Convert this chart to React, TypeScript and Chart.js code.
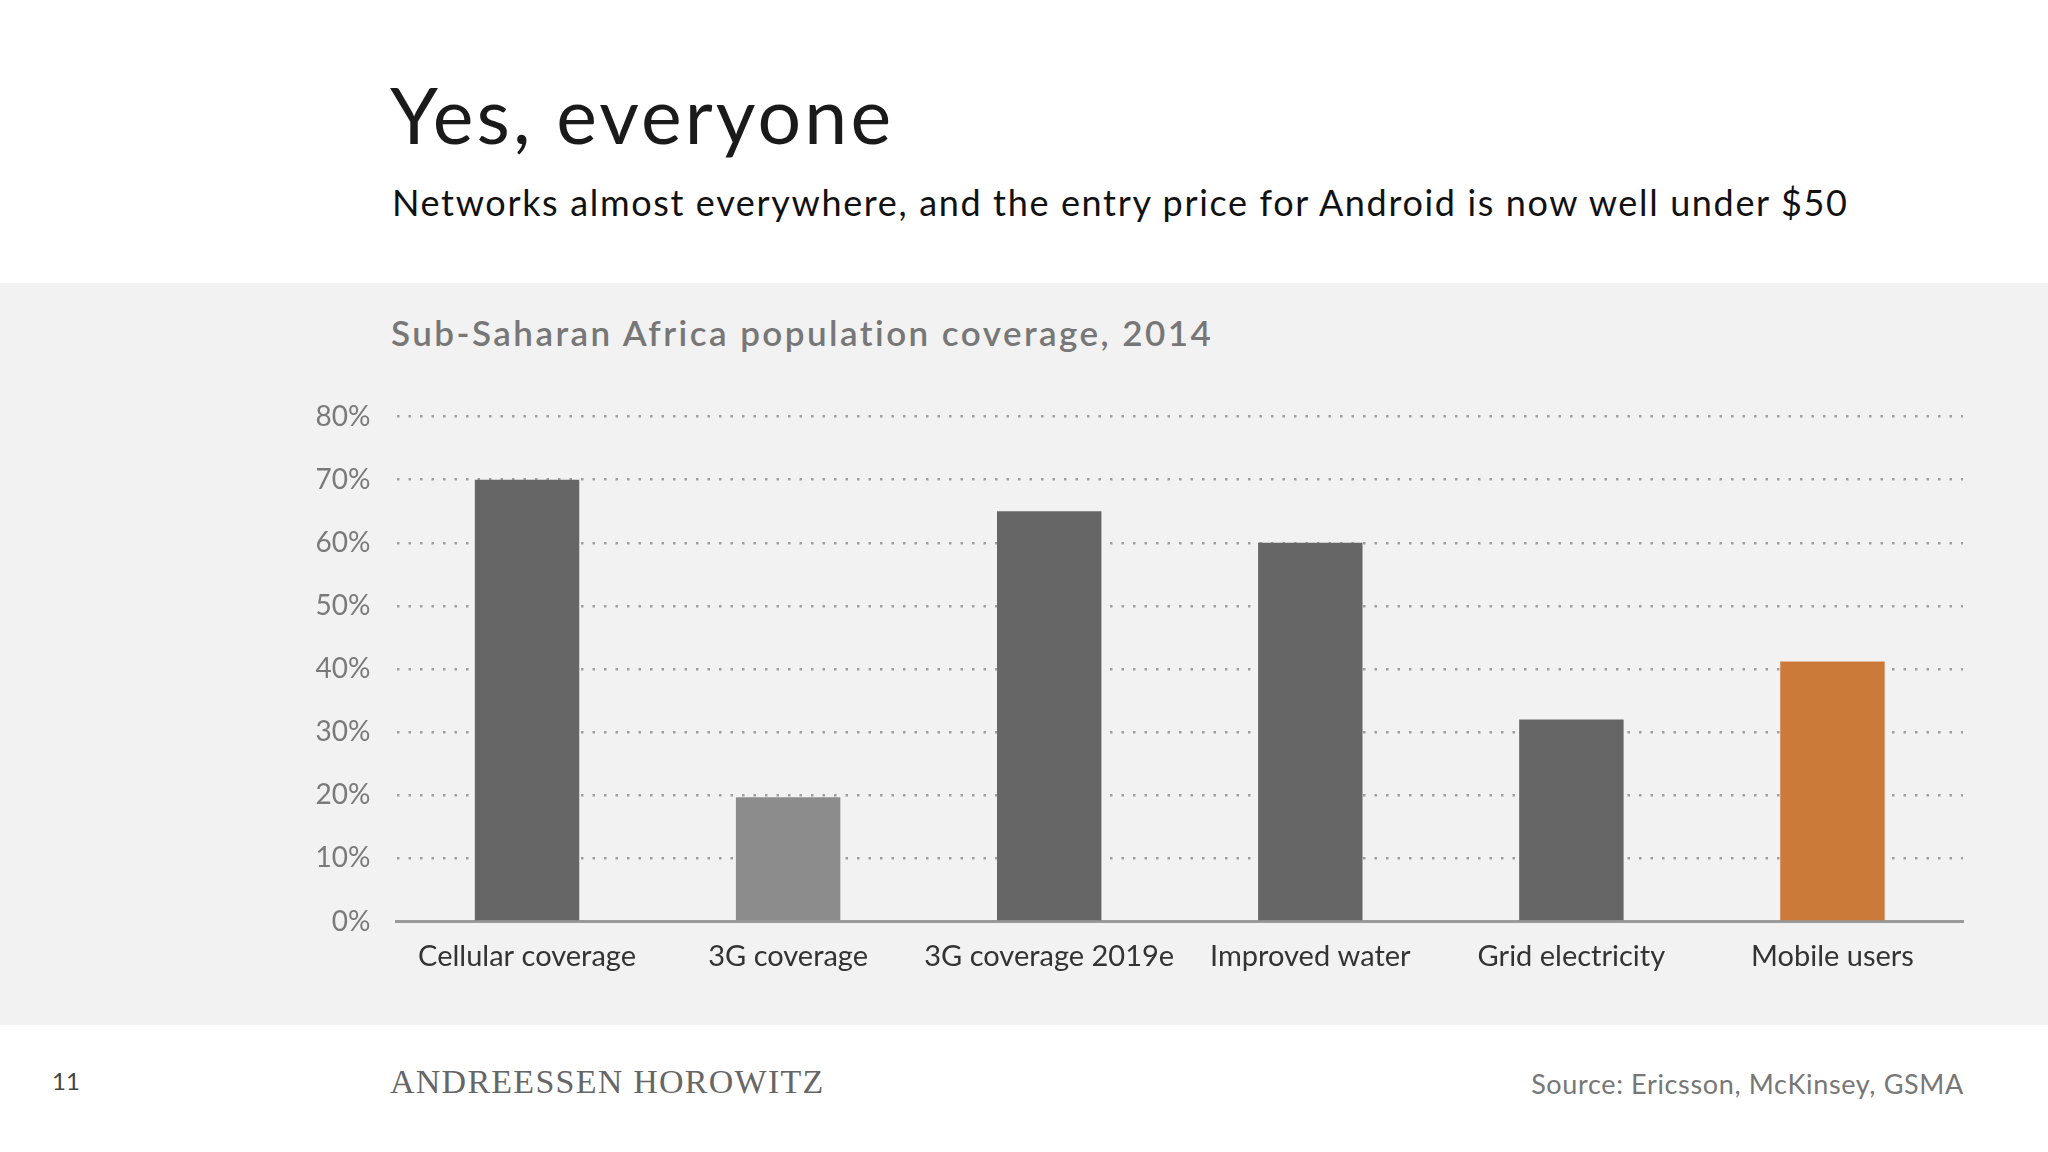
import React, { useEffect, useRef } from "react";
import { Chart, registerables } from "chart.js";

Chart.register(...registerables);

const categories = [
  "Cellular coverage",
  "3G coverage",
  "3G coverage 2019e",
  "Improved water",
  "Grid electricity",
  "Mobile users",
];
const coverageValues = [70, 19.7, 65, 60, 32, 41.2];
const barColors = ["#666666", "#8c8c8c", "#666666", "#666666", "#666666", "#cc7a3a"];
const yTickValues = [0, 10, 20, 30, 40, 50, 60, 70, 80];

const FONT = "Lato, 'Open Sans', sans-serif";

function BarChart() {
  const ref = useRef<HTMLCanvasElement | null>(null);
  useEffect(() => {
    if (!ref.current) return;
    const chart = new Chart(ref.current, {
      type: "bar",
      data: {
        labels: categories,
        datasets: [
          {
            data: coverageValues,
            backgroundColor: barColors,
            borderWidth: 0,
            barPercentage: 0.4,
            categoryPercentage: 1,
          },
        ],
      },
      options: {
        animation: false,
        responsive: false,
        maintainAspectRatio: false,
        devicePixelRatio: 1,
        layout: { padding: { top: 36.6, right: 37, bottom: 0, left: 0 } },
        plugins: { legend: { display: false }, tooltip: { enabled: false }, title: { display: false } },
        scales: {
          x: {
            grid: { display: false, drawTicks: false },
            border: { display: true, color: "#9a9a9a", width: 3 },
            ticks: {
              color: "#333333",
              font: { family: FONT, size: 29 },
              padding: 17.5,
              maxRotation: 0,
              autoSkip: false,
            },
            afterFit: (scale: any) => {
              scale.height = 78.5;
            },
          },
          y: {
            min: 0,
            max: 80,
            afterBuildTicks: (scale: any) => {
              scale.ticks = yTickValues.map((v) => ({ value: v }));
            },
            grid: {
              color: "#9e9e9e",
              lineWidth: 2.5,
              drawTicks: true,
              tickLength: 24,
              tickColor: "rgba(0,0,0,0)",
            },
            border: { display: false, dash: [2.5, 9] },
            ticks: {
              color: "#7a7a7a",
              font: { family: FONT, size: 28 },
              padding: 2,
              callback: (v: any) => v + "%",
            },
            afterFit: (scale: any) => {
              scale.width = 146.5;
            },
          },
        },
      },
    });
    return () => chart.destroy();
  }, []);
  return (
    <canvas
      ref={ref}
      width={1750}
      height={620}
      style={{ position: "absolute", left: 250, top: 380, width: 1750, height: 620 }}
    />
  );
}

export default function App() {
  return (
    <div
      style={{
        position: "fixed",
        left: 0,
        top: 0,
        width: 2048,
        height: 1152,
        background: "#ffffff",
        overflow: "hidden",
        fontFamily: FONT,
      }}
    >
      <div
        style={{
          position: "absolute",
          left: 390,
          top: 76,
          fontSize: 77,
          lineHeight: "77px",
          color: "#1a1a1a",
          whiteSpace: "nowrap",
          letterSpacing: 3.1,
        }}
      >
        Yes, everyone
      </div>
      <div
        style={{
          position: "absolute",
          left: 392,
          top: 184,
          fontSize: 36,
          lineHeight: "36px",
          color: "#111111",
          whiteSpace: "nowrap",
          letterSpacing: 1.65,
        }}
      >
        Networks almost everywhere, and the entry price for Android is now well under $50
      </div>
      <div
        style={{
          position: "absolute",
          left: 0,
          top: 283,
          width: 2048,
          height: 742,
          background: "#f2f2f2",
        }}
      />
      <div
        style={{
          position: "absolute",
          left: 391,
          top: 315,
          fontSize: 35,
          lineHeight: "35px",
          fontWeight: 600,
          color: "#777777",
          whiteSpace: "nowrap",
          letterSpacing: 2.45,
        }}
      >
        Sub-Saharan Africa population coverage, 2014
      </div>
      <BarChart />
      <div
        style={{
          position: "absolute",
          left: 52,
          top: 1069,
          fontSize: 24,
          lineHeight: "24px",
          color: "#444444",
        }}
      >
        11
      </div>
      <div
        style={{
          position: "absolute",
          left: 390,
          top: 1065,
          fontSize: 34,
          lineHeight: "34px",
          color: "#666666",
          fontFamily: "'Liberation Serif', 'DejaVu Serif', serif",
          whiteSpace: "nowrap",
          letterSpacing: 1.25,
        }}
      >
        ANDREESSEN HOROWITZ
      </div>
      <div
        style={{
          position: "absolute",
          right: 84,
          top: 1070,
          fontSize: 27,
          lineHeight: "27px",
          color: "#777777",
          whiteSpace: "nowrap",
          letterSpacing: 0.65,
        }}
      >
        Source: Ericsson, McKinsey, GSMA
      </div>
    </div>
  );
}
